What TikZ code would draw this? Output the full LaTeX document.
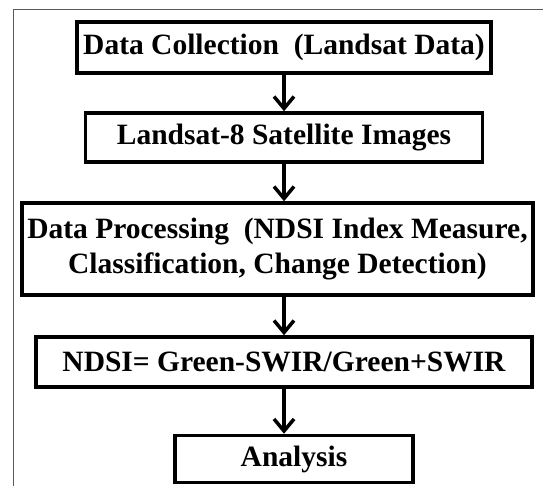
\documentclass[tikz,border=0pt]{standalone}
\usepackage{fontspec}
\setmainfont{Liberation Serif}
\usetikzlibrary{arrows.meta}
\definecolor{rahmen}{RGB}{90,90,90}

\tikzset{
  stufe/.style={draw, line width=3.5pt, inner sep=0pt, align=center,
    font=\bfseries\fontsize{29.5}{35}\selectfont},
  pfeil/.style={line width=3.5pt, -{Straight Barb[length=12pt, width=20pt]}}
}

\begin{document}
\begin{tikzpicture}[x=1pt, y=-1pt]

    \useasboundingbox (0,0) rectangle (543,486);
    % outer frame, only left and top edge visible
    \draw[rahmen, line width=1pt] (13,486) -- (13,10) -- (543,10);

    \node[stufe, minimum width=414pt, minimum height=51pt] (sammeln) at (284,47.5) {Data Collection\ \ (Landsat Data)};
    \node[stufe, minimum width=397pt, minimum height=49pt] (bilder) at (284,137.5) {Landsat-8 Satellite Images};
    \node[stufe, minimum width=511pt, minimum height=92pt] (verarbeitung) at (277.5,249) {Data Processing\ \ (NDSI Index Measure,\\Classification, Change Detection)};
    \node[stufe, minimum width=496pt, minimum height=50pt] (index) at (284,362) {NDSI= Green-SWIR/Green+SWIR};
    \node[stufe, minimum width=238pt, minimum height=47pt] (analyse) at (294,459) {Analysis};

    \draw[pfeil] (sammeln.south) -- (sammeln.south |- bilder.north);
    \draw[pfeil] (bilder.south) -- (bilder.south |- verarbeitung.north);
    \draw[pfeil] (index.north |- verarbeitung.south) -- (index.north);
    \draw[pfeil] (index.south) -- (index.south |- analyse.north);

\end{tikzpicture}
\end{document}
